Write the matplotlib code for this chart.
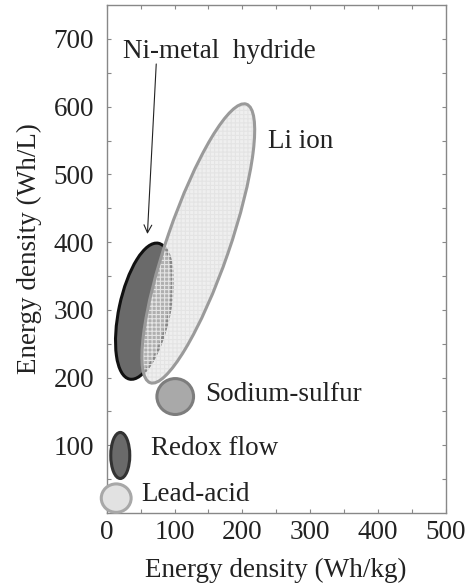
import matplotlib
matplotlib.use("Agg")
import matplotlib.pyplot as plt
from matplotlib.patches import Ellipse

plt.rcParams['font.family'] = ['Liberation Serif', 'DejaVu Serif']
plt.rcParams['hatch.linewidth'] = 0.8

# Data (energy density regions): centre x (Wh/kg), centre y (Wh/L), width, height, angle
technologies = ["Ni-metal hydride", "Li ion", "Sodium-sulfur", "Redox flow", "Lead-acid"]
centre_x = [55, 135, 101, 20, 14]
centre_y = [298, 398, 172, 85, 22]
widths = [205, 435, 54, 28, 44]
heights = [74, 92, 53, 68, 42]
angles = [78, 71, 0, 0, 0]

label_x = [24, 238, 145, 66, 51]
label_y = [681, 549, 175, 95, 27]
label_text = ["Ni-metal  hydride", "Li ion", "Sodium-sulfur", "Redox flow", "Lead-acid"]

arrow_start = (73, 663)
arrow_end = (60, 412)

xticks = [0, 100, 200, 300, 400, 500]
yticks = [100, 200, 300, 400, 500, 600, 700]

FS = 19.5

fig = plt.figure(figsize=(4.74, 5.87), dpi=100)
ax = fig.add_axes([0.2251, 0.126, 0.7158, 0.8654])
ax.set_xlim(0, 500)
ax.set_ylim(0, 750)

# Ni-metal hydride
i = 0
ax.add_patch(Ellipse((centre_x[i], centre_y[i]), heights[i], widths[i], angle=angles[i] - 90,
                     facecolor='#6a6a6a', edgecolor='#111111', lw=2.2, zorder=2))
# Li ion: semi-transparent fill + hatch, then edge
i = 1
ax.add_patch(Ellipse((centre_x[i], centre_y[i]), widths[i], heights[i], angle=angles[i],
                     facecolor=(0.894, 0.894, 0.894, 0.57), edgecolor='#e4e4e4', hatch='++++',
                     lw=0, zorder=3))
ax.add_patch(Ellipse((centre_x[i], centre_y[i]), widths[i], heights[i], angle=angles[i],
                     facecolor='none', edgecolor='#9a9a9a', lw=2.2, zorder=4))
# Sodium-sulfur
i = 2
ax.add_patch(Ellipse((centre_x[i], centre_y[i]), widths[i], heights[i], angle=angles[i],
                     facecolor='#a9a9a9', edgecolor='#7d7d7d', lw=2.2, zorder=3))
# Redox flow
i = 3
ax.add_patch(Ellipse((centre_x[i], centre_y[i]), widths[i], heights[i], angle=angles[i],
                     facecolor='#6a6a6a', edgecolor='#333333', lw=2.2, zorder=3))
# Lead-acid (extends past the frame)
i = 4
ax.add_patch(Ellipse((centre_x[i], centre_y[i]), widths[i], heights[i], angle=angles[i],
                     facecolor='#e2e2e2', edgecolor='#a8a8a8', lw=2.2, zorder=3, clip_on=False))

for tx, ty, t in zip(label_x, label_y, label_text):
    ax.text(tx, ty, t, fontsize=FS, color='#222222', va='center', ha='left', zorder=5)

ax.annotate('', xy=arrow_end, xytext=arrow_start,
            arrowprops=dict(arrowstyle='->', color='#222222', lw=0.8,
                            mutation_scale=14, shrinkA=0, shrinkB=0), zorder=5)

ax.set_xticks(xticks)
ax.set_yticks(yticks)
ax.set_xticks(range(50, 500, 50), minor=True)
ax.set_yticks(range(50, 750, 50), minor=True)
ax.tick_params(which='both', direction='in', top=True, right=True, color='#888888',
               labelsize=FS, labelcolor='#222222', length=3, width=0.8)
ax.tick_params(axis='x', which='major', pad=5)
ax.tick_params(axis='y', which='major', pad=9)
for s in ax.spines.values():
    s.set_color('#888888')
    s.set_linewidth(1.0)

ax.set_xlabel('Energy density (Wh/kg)', fontsize=FS, color='#222222')
ax.set_ylabel('Energy density (Wh/L)', fontsize=FS, color='#222222')
ax.xaxis.set_label_coords(0.497, -0.088)
ax.yaxis.set_label_coords(-0.19, 0.52)

fig.savefig('out.png', dpi=100)
